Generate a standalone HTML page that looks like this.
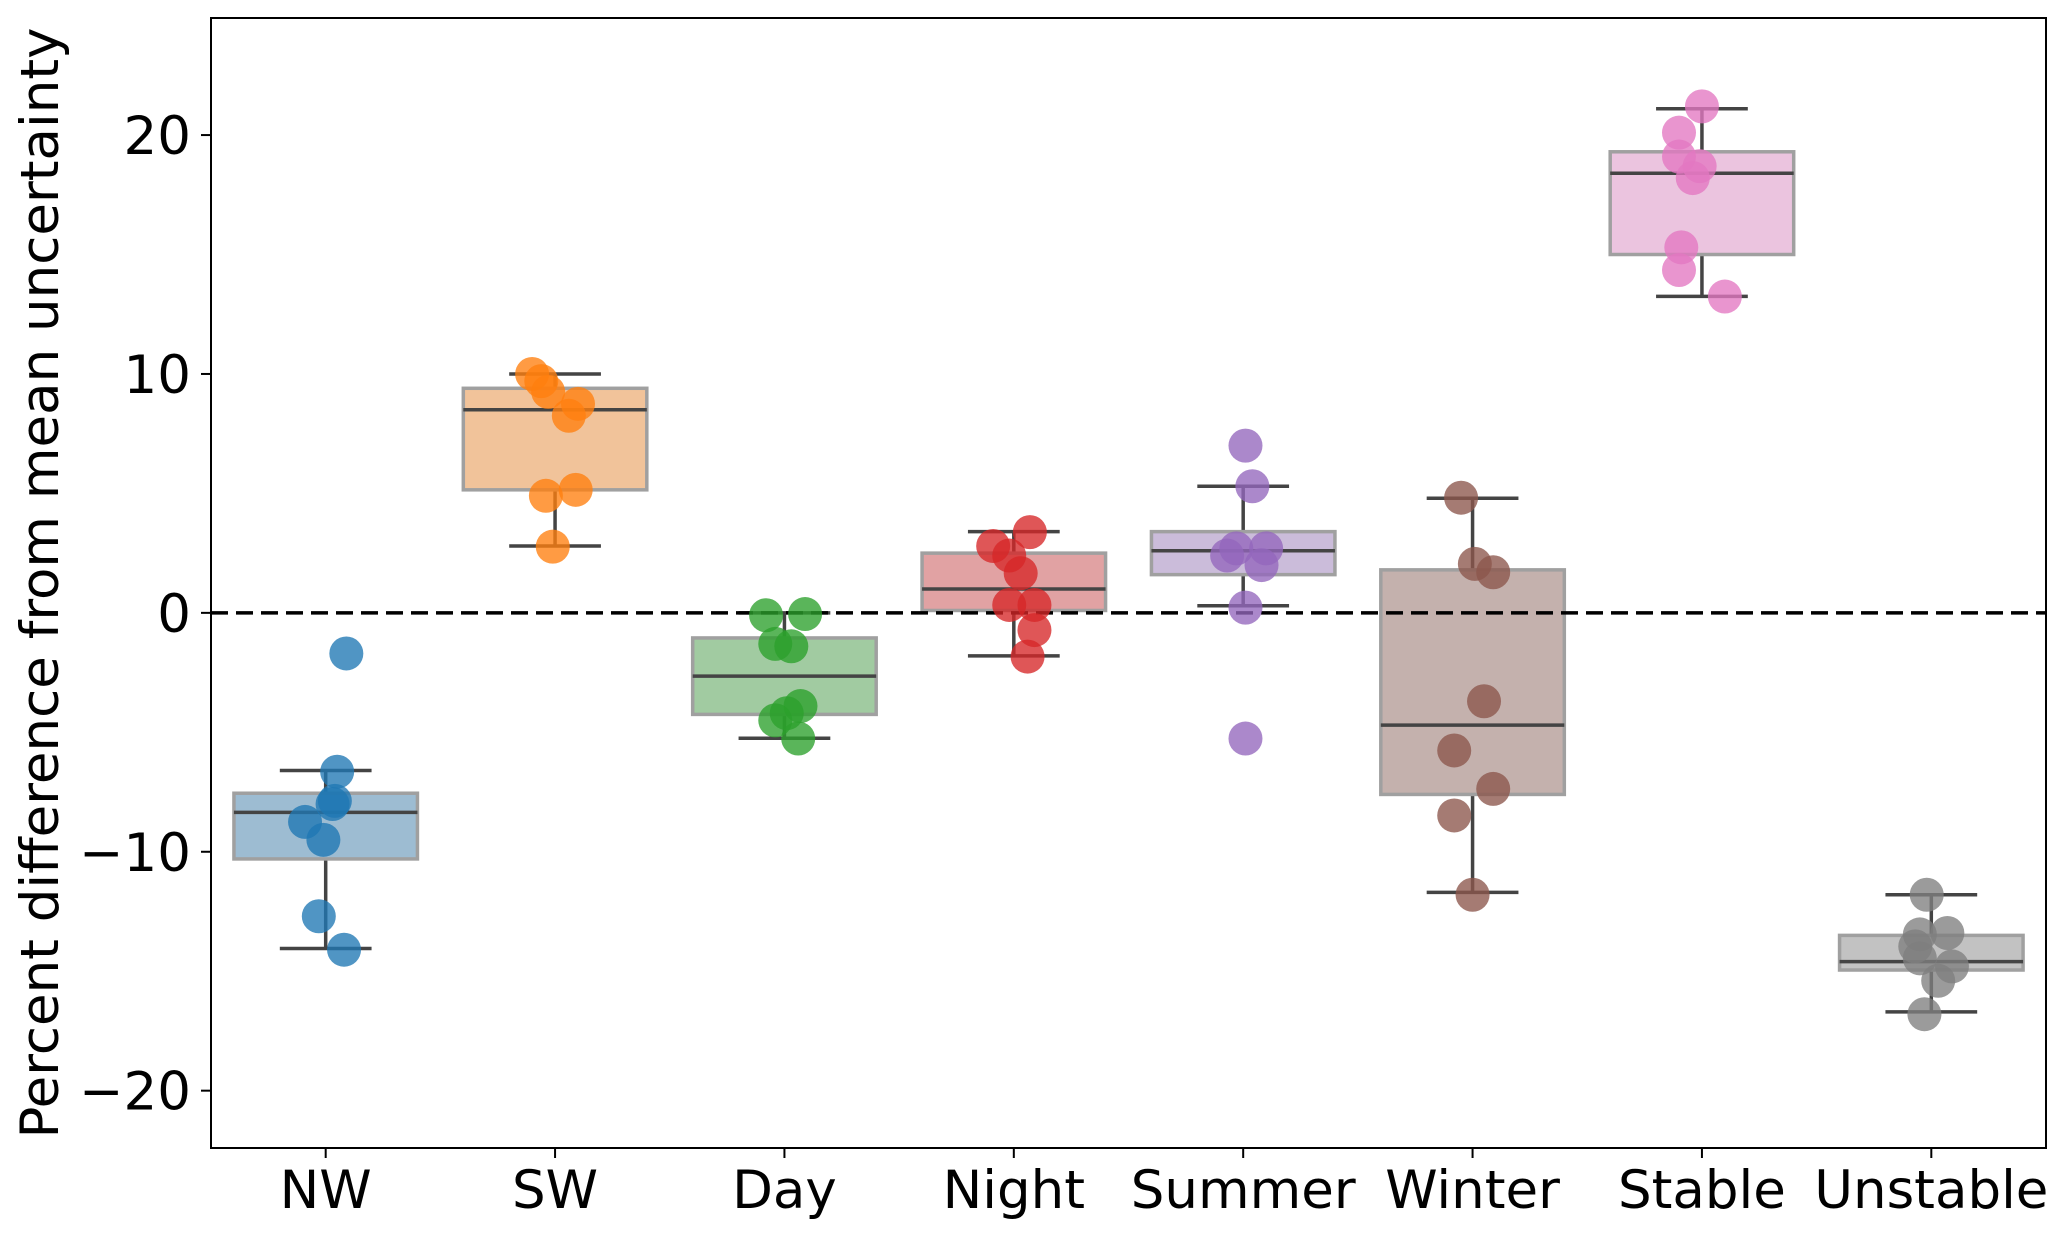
<!DOCTYPE html>
<html><head><meta charset="utf-8"><style>
html,body{margin:0;padding:0;background:#fff;}
svg{display:block;font-family:"DejaVu Sans","Liberation Sans",sans-serif;}
</style></head><body>
<svg id="chart" width="2067" height="1238" viewBox="0 0 2067 1238" xmlns="http://www.w3.org/2000/svg"></svg>
<script>
const categories = ["NW","SW","Day","Night","Summer","Winter","Stable","Unstable"];
const colors = ["#1f77b4","#ff7f0e","#2ca02c","#d62728","#9467bd","#8c564b","#e377c2","#7f7f7f"];
const boxColors = ["#3274a1","#e1812c","#3a923a","#c03d3e","#9372b2","#845b53","#d684bd","#7f7f7f"];
const whiskerHigh = [-6.6, 10.0, 0.0, 3.4, 5.3, 4.8, 21.1, -11.8];
const boxQ3 = [-7.55, 9.4, -1.05, 2.5, 3.4, 1.8, 19.3, -13.5];
const medians = [-8.35, 8.5, -2.65, 1.0, 2.6, -4.7, 18.4, -14.6];
const boxQ1 = [-10.3, 5.15, -4.25, 0.1, 1.6, -7.6, 15.0, -14.95];
const whiskerLow = [-14.05, 2.8, -5.25, -1.8, 0.3, -11.7, 13.25, -16.7];
const pointValues = [
  [-1.7,-6.65,-7.87,-8.0,-8.75,-9.5,-12.7,-14.1],
  [10.0,9.7,9.25,8.75,8.25,4.9,5.15,2.77],
  [-0.1,-0.05,-1.3,-1.4,-3.9,-4.2,-4.5,-5.26],
  [3.38,2.8,2.4,1.66,0.33,0.33,-0.72,-1.83],
  [7.0,5.3,2.7,2.7,2.4,2.0,0.22,-5.26],
  [4.82,2.05,1.7,-3.7,-5.76,-7.37,-8.48,-11.8],
  [21.2,20.1,19.1,18.7,18.2,15.3,14.35,13.24],
  [-11.8,-13.4,-13.46,-13.96,-14.46,-14.8,-15.4,-16.8]
];
const pointJitter = [
  [0.09,0.05,0.04,0.03,-0.09,-0.01,-0.03,0.08],
  [-0.1,-0.06,-0.03,0.1,0.06,-0.04,0.09,-0.01],
  [-0.08,0.09,-0.04,0.03,0.07,0.01,-0.04,0.06],
  [0.07,-0.09,-0.02,0.03,-0.02,0.09,0.09,0.06],
  [0.01,0.04,-0.03,0.1,-0.07,0.08,0.01,0.01],
  [-0.05,0.01,0.09,0.05,-0.08,0.09,-0.08,0.0],
  [0.0,-0.1,-0.1,-0.01,-0.04,-0.09,-0.1,0.1],
  [-0.02,0.07,-0.05,-0.07,-0.05,0.09,0.03,-0.03]
];
const yTicks = [-20,-10,0,10,20];
const yTickLabels = ["\u221220","\u221210","0","10","20"];

const L=211, R=2046, T=18, B=1148;
const yMin=-22.4, yMax=24.9;
const xScale = i => L + (i+0.5)*(R-L)/categories.length;
const yScale = v => B - (v-yMin)/(yMax-yMin)*(B-T);
const bw = 0.8*(R-L)/categories.length;
const svg=document.getElementById('chart');
const NS="http://www.w3.org/2000/svg";
function mk(tag,attrs,parent){const e=document.createElementNS(NS,tag);for(const k in attrs)e.setAttribute(k,attrs[k]);(parent||svg).appendChild(e);return e;}

categories.forEach((c,i)=>{
  const g=mk('g',{});
  
  
  const cx=xScale(i);
  const w1=mk('line',{x1:cx,x2:cx,y1:yScale(whiskerHigh[i]),y2:yScale(boxQ3[i]),stroke:'#444',"stroke-width":3.5},g);
  
  
  const w2=mk('line',{x1:cx,x2:cx,y1:yScale(boxQ1[i]),y2:yScale(whiskerLow[i]),stroke:'#444',"stroke-width":3.5},g);
  
  
  const cw=bw*0.5;
  const c1=mk('line',{x1:cx-cw/2,x2:cx+cw/2,y1:yScale(whiskerHigh[i]),y2:yScale(whiskerHigh[i]),stroke:'#444',"stroke-width":3.5},g);
  
  
  const c2=mk('line',{x1:cx-cw/2,x2:cx+cw/2,y1:yScale(whiskerLow[i]),y2:yScale(whiskerLow[i]),stroke:'#444',"stroke-width":3.5},g);
  
  
  const r=mk('rect',{x:cx-bw/2,y:yScale(boxQ3[i]),width:bw,height:yScale(boxQ1[i])-yScale(boxQ3[i]),fill:boxColors[i],"fill-opacity":0.48,stroke:'#a0a0a0',"stroke-width":3.5},g);
  
  
  const m=mk('line',{x1:cx-bw/2,x2:cx+bw/2,y1:yScale(medians[i]),y2:yScale(medians[i]),stroke:'#444',"stroke-width":3.5},g);
  
  
});
const zl=mk('line',{x1:L,x2:R,y1:yScale(0),y2:yScale(0),stroke:'#000',"stroke-width":3.5,"stroke-dasharray":"17,8"});


categories.forEach((c,i)=>{
  pointValues[i].forEach((v,j)=>{
    const p=mk('circle',{cx:xScale(i+pointJitter[i][j]),cy:yScale(v),r:17,fill:colors[i],"fill-opacity":0.78});
    
    
  });
});
const fr=mk('rect',{x:L,y:T,width:R-L,height:B-T,fill:'none',stroke:'#000',"stroke-width":2});


yTicks.forEach((v,k)=>{
  const y=yScale(v);
  const t=mk('line',{x1:L-10,x2:L,y1:y,y2:y,stroke:'#000',"stroke-width":2});
  
  
  const tx=mk('text',{x:L-20,y:y+19,"text-anchor":"end","font-size":53,fill:'#000'});
  tx.textContent=yTickLabels[k];
  
  
});
categories.forEach((c,i)=>{
  const x=xScale(i);
  const t=mk('line',{x1:x,x2:x,y1:B,y2:B+10,stroke:'#000',"stroke-width":2});
  
  
  const tx=mk('text',{x:x,y:1208,"text-anchor":"middle","font-size":53,fill:'#000'});
  tx.textContent=c;
  
  
});
const yl=mk('text',{x:0,y:0,transform:'translate(58,583) rotate(-90)',"text-anchor":"middle","font-size":53,fill:'#000'});
yl.textContent='Percent difference from mean uncertainty';


</script>
</body></html>
